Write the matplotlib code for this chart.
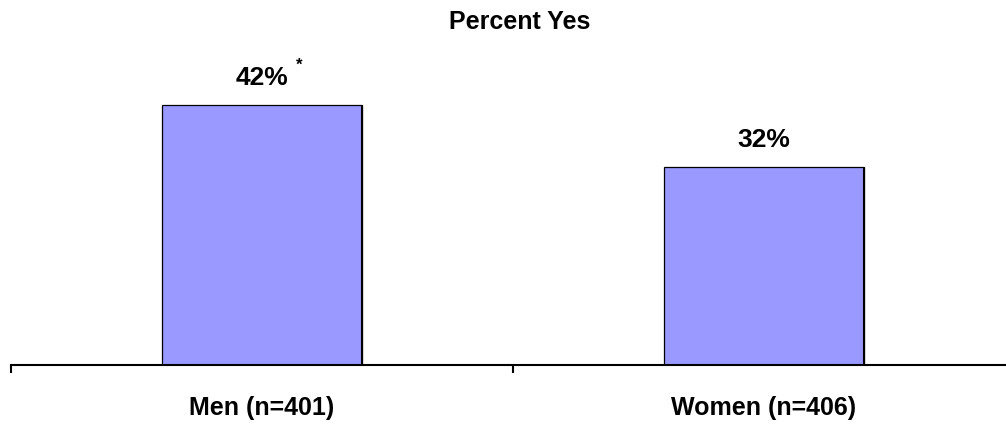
import matplotlib
matplotlib.use("Agg")
import matplotlib.pyplot as plt

# Survey result: share answering "yes" by gender
categories = ["Men (n=401)", "Women (n=406)"]
percent_yes = [42, 32]
value_labels = ["42%", "32%"]
markers = ["*", ""]
title = "Percent Yes"

plt.rcParams["font.family"] = ["Liberation Sans", "DejaVu Sans"]
plt.rcParams["font.weight"] = "bold"

W, H, DPI = 1006, 425, 100
fig = plt.figure(figsize=(W / DPI, H / DPI), dpi=DPI)

# axes placed in pixel units; the right edge runs past the figure edge
left_px, base_px, width_px, top_px = 11, 365, 1004, 55.5
ax = fig.add_axes([left_px / W, (H - base_px) / H, width_px / W, (base_px - top_px) / H])

x = list(range(len(categories)))
bars = ax.bar(x, percent_yes, width=0.4, color="#9999FF", edgecolor="black",
              linewidth=0.9, zorder=2)

# slightly heavier right edge on each bar
for b in bars:
    xr = b.get_x() + b.get_width()
    ax.plot([xr, xr], [0, b.get_height()], color="black", linewidth=1.5,
            solid_capstyle="butt", zorder=3)

ax.set_xlim(-0.5, len(categories) - 0.5)
ax.set_ylim(0, 50)

for s in ("left", "right", "top"):
    ax.spines[s].set_visible(False)
ax.spines["bottom"].set_linewidth(1.5)
ax.spines["bottom"].set_zorder(4)
ax.set_yticks([])
ax.set_xticks([i - 0.5 for i in range(len(categories) + 1)])
ax.set_xticklabels([])
ax.tick_params(axis="x", direction="out", length=6, width=1.5, color="black")

px = 72 / DPI  # points per pixel

for i, (v, lab, mk) in enumerate(zip(percent_yes, value_labels, markers)):
    ax.annotate(lab, xy=(i, v), xytext=(0, 20 * px), textcoords="offset points",
                ha="center", va="baseline", fontsize=19, fontweight="bold")
    if mk:
        ax.annotate(mk, xy=(i, v), xytext=(37 * px, 35 * px), textcoords="offset points",
                    ha="center", va="baseline", fontsize=12, fontweight="bold")

for i, cat in enumerate(categories):
    ax.annotate(cat, xy=(i, 0), xycoords=("data", "axes fraction"),
                xytext=(0, -50 * px), textcoords="offset points",
                ha="center", va="baseline", fontsize=18, fontweight="bold")

fig.text(520 / W, 1 - 29 / H, title, ha="center", va="baseline",
         fontsize=18, fontweight="bold")

fig.savefig("out.png", dpi=DPI)
